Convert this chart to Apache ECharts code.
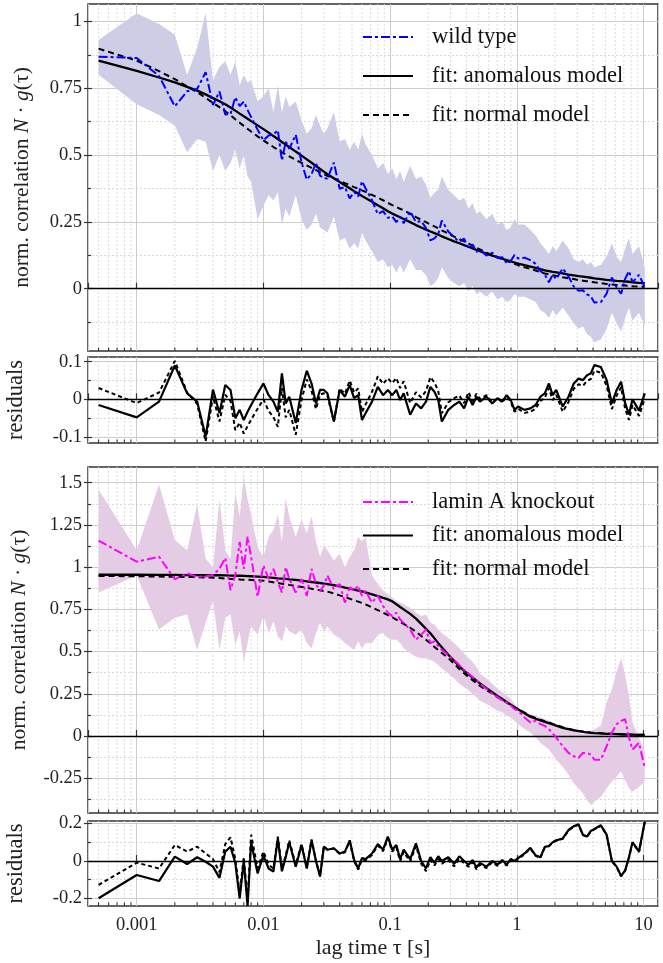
<!DOCTYPE html>
<html><head><meta charset="utf-8">
<script src="https://cdn.jsdelivr.net/npm/echarts@6/dist/echarts.min.js"></script>
<style>html,body{margin:0;padding:0;background:#fff}#c{width:663px;height:963px}</style>
</head><body><div id="c"></div>
<script>
// ---- lag times [s]
const tau = [0.0005,0.001,0.0015,0.002,0.0025,0.003,0.0035,0.004,0.0045,0.005,
0.0055,0.006,0.0065,0.007,0.0075,0.008,0.009,0.010,0.011,0.012,
0.013,0.014,0.015,0.016,0.018,0.020,0.022,0.024,0.026,0.028,
0.030,0.032,0.036,0.040,0.044,0.048,0.052,0.056,0.060,0.064,
0.072,0.080,0.088,0.096,0.104,0.112,0.120,0.128,0.144,0.160,
0.176,0.192,0.208,0.224,0.240,0.256,0.288,0.320,0.352,0.384,
0.416,0.448,0.480,0.512,0.576,0.640,0.704,0.768,0.832,0.896,
0.960,1.024,1.152,1.280,1.408,1.536,1.664,1.792,1.920,2.048,
2.304,2.560,2.816,3.072,3.328,3.584,3.840,4.096,4.608,5.120,
5.632,6.144,6.656,7.168,7.680,8.192,9.216,10.24];

// ---- wild type
const wtData = [0.868,0.863,0.796,0.682,0.739,0.747,0.810,0.687,0.738,0.652,
0.653,0.716,0.683,0.700,0.669,0.642,0.595,0.555,0.573,0.577,
0.593,0.480,0.550,0.523,0.576,0.473,0.408,0.429,0.470,0.423,
0.413,0.412,0.472,0.374,0.380,0.338,0.362,0.345,0.402,0.376,
0.331,0.279,0.290,0.265,0.270,0.249,0.269,0.245,0.290,0.249,
0.253,0.227,0.181,0.188,0.204,0.255,0.214,0.192,0.176,0.187,
0.150,0.166,0.138,0.146,0.124,0.135,0.115,0.118,0.096,0.104,
0.126,0.113,0.116,0.107,0.093,0.066,0.053,0.024,0.052,0.036,
0.076,0.046,0.008,-0.008,-0.006,-0.021,-0.028,-0.052,-0.050,-0.018,
0.042,0.004,-0.019,0.037,0.066,0.024,0.052,0.005];
const wtUpper = [0.93,1.03,0.99,0.95,0.80,0.90,1.03,0.78,0.83,0.85,
0.80,0.85,0.76,0.80,0.77,0.78,0.70,0.72,0.75,0.66,
0.76,0.66,0.72,0.68,0.70,0.63,0.58,0.60,0.65,0.61,
0.58,0.60,0.66,0.55,0.56,0.52,0.55,0.52,0.58,0.54,
0.50,0.45,0.47,0.43,0.45,0.41,0.44,0.40,0.46,0.41,
0.42,0.39,0.34,0.36,0.37,0.42,0.37,0.35,0.33,0.34,
0.30,0.32,0.28,0.29,0.26,0.28,0.24,0.25,0.22,0.23,
0.26,0.24,0.24,0.22,0.20,0.17,0.15,0.13,0.16,0.14,
0.18,0.15,0.11,0.10,0.11,0.09,0.10,0.08,0.09,0.12,
0.17,0.12,0.10,0.15,0.19,0.13,0.16,0.08];
const wtLower = [0.80,0.69,0.65,0.61,0.51,0.56,0.55,0.44,0.50,0.44,
0.47,0.52,0.45,0.50,0.42,0.40,0.26,0.31,0.35,0.33,
0.36,0.24,0.30,0.27,0.35,0.26,0.22,0.24,0.28,0.23,
0.22,0.21,0.27,0.18,0.19,0.15,0.17,0.15,0.21,0.18,
0.14,0.10,0.11,0.08,0.09,0.06,0.09,0.06,0.11,0.07,
0.07,0.05,0.01,0.02,0.04,0.08,0.04,0.02,0.01,0.02,
-0.01,0.01,-0.02,-0.01,-0.03,-0.01,-0.04,-0.03,-0.05,-0.04,
-0.02,-0.03,-0.03,-0.04,-0.05,-0.08,-0.09,-0.11,-0.08,-0.10,
-0.07,-0.10,-0.13,-0.15,-0.14,-0.17,-0.18,-0.20,-0.19,-0.15,
-0.09,-0.13,-0.16,-0.11,-0.07,-0.12,-0.09,-0.14];
const wtFitAnom = [0.853,0.815,0.790,0.772,0.755,0.741,0.727,0.713,0.701,0.690,
0.678,0.666,0.655,0.645,0.636,0.627,0.611,0.597,0.584,0.571,
0.560,0.549,0.539,0.530,0.513,0.498,0.484,0.471,0.459,0.448,
0.438,0.428,0.413,0.399,0.387,0.376,0.365,0.356,0.347,0.339,
0.325,0.312,0.301,0.290,0.281,0.274,0.267,0.261,0.249,0.238,
0.229,0.221,0.214,0.208,0.202,0.196,0.186,0.177,0.170,0.163,
0.157,0.151,0.145,0.140,0.131,0.124,0.118,0.112,0.107,0.102,
0.098,0.094,0.088,0.083,0.078,0.073,0.069,0.066,0.063,0.061,
0.057,0.053,0.050,0.047,0.045,0.043,0.041,0.039,0.036,0.033,
0.031,0.029,0.028,0.027,0.026,0.024,0.022,0.021];
const wtFitNorm = [0.898,0.853,0.814,0.784,0.757,0.735,0.714,0.695,0.679,0.664,
0.649,0.634,0.621,0.609,0.598,0.588,0.570,0.555,0.542,0.530,
0.520,0.510,0.502,0.495,0.482,0.471,0.461,0.452,0.444,0.436,
0.429,0.422,0.412,0.403,0.395,0.388,0.380,0.374,0.368,0.362,
0.351,0.340,0.331,0.321,0.313,0.306,0.299,0.293,0.280,0.268,
0.258,0.249,0.240,0.233,0.226,0.218,0.206,0.195,0.186,0.177,
0.169,0.161,0.153,0.147,0.135,0.126,0.118,0.110,0.104,0.098,
0.093,0.088,0.080,0.074,0.068,0.062,0.057,0.054,0.050,0.048,
0.043,0.039,0.036,0.032,0.030,0.028,0.026,0.024,0.021,0.018,
0.016,0.014,0.013,0.012,0.011,0.009,0.008,0.007];
const wtResAnom = [-0.015,-0.048,-0.006,0.090,0.016,-0.006,-0.099,0.026,-0.037,0.038,
0.025,-0.050,-0.028,-0.055,-0.033,-0.015,0.016,0.042,0.011,-0.006,
-0.033,0.069,-0.011,0.007,-0.063,0.025,0.076,0.042,-0.011,0.025,
0.025,0.016,-0.059,0.025,0.007,0.038,0.003,0.011,-0.055,-0.037,
-0.006,0.033,0.011,0.025,0.011,0.025,-0.002,0.016,-0.041,-0.011,
-0.024,-0.006,0.033,0.020,-0.002,-0.059,-0.028,-0.015,-0.006,-0.024,
0.007,-0.015,0.007,-0.006,0.007,-0.011,0.003,-0.006,0.011,-0.002,
-0.028,-0.019,-0.028,-0.024,-0.015,0.007,0.016,0.042,0.011,0.025,
-0.019,0.007,0.042,0.055,0.051,0.064,0.069,0.091,0.086,0.051,
-0.011,0.025,0.047,-0.010,-0.040,0.000,-0.030,0.016];
const wtResNorm = [0.030,-0.010,0.018,0.102,0.018,-0.012,-0.112,0.008,-0.059,0.012,
-0.004,-0.082,-0.062,-0.091,-0.071,-0.054,-0.025,0.000,-0.031,-0.047,
-0.073,0.030,-0.048,-0.028,-0.094,-0.002,0.053,0.023,-0.026,0.013,
0.016,0.010,-0.060,0.029,0.015,0.050,0.018,0.029,-0.034,-0.014,
0.020,0.061,0.041,0.056,0.043,0.057,0.030,0.048,-0.010,0.019,
0.005,0.022,0.059,0.045,0.022,-0.037,-0.008,0.003,0.010,-0.010,
0.019,-0.005,0.015,0.001,0.011,-0.009,0.003,-0.008,0.008,-0.006,
-0.033,-0.025,-0.036,-0.033,-0.025,-0.004,0.004,0.030,-0.002,0.012,
-0.033,-0.007,0.028,0.040,0.036,0.049,0.054,0.076,0.071,0.036,
-0.026,0.010,0.032,-0.025,-0.055,-0.015,-0.044,0.002];

// ---- lamin A knockout
const koData = [1.157,1.032,1.062,0.928,0.963,0.943,0.945,0.953,0.990,1.054,
0.864,0.953,1.150,0.990,1.180,1.060,0.825,1.010,0.930,0.990,
0.910,0.850,1.000,0.930,0.850,0.930,0.830,0.990,0.900,0.860,
0.890,0.950,0.870,0.900,0.790,0.880,0.860,0.890,0.830,0.860,
0.790,0.830,0.770,0.730,0.710,0.730,0.690,0.670,0.630,0.570,
0.600,0.630,0.550,0.560,0.530,0.510,0.480,0.450,0.420,0.390,
0.370,0.350,0.330,0.310,0.280,0.250,0.230,0.210,0.200,0.180,
0.160,0.150,0.110,0.080,0.090,0.070,0.060,0.040,0.015,-0.010,
-0.060,-0.100,-0.120,-0.130,-0.100,-0.100,-0.110,-0.140,-0.140,-0.060,
0.020,0.070,0.090,0.100,-0.010,-0.080,-0.040,-0.190];
const koUpper = [1.46,1.10,1.49,1.16,1.10,1.37,1.05,1.00,1.40,1.10,
1.05,1.44,1.30,1.54,1.40,1.31,1.12,1.06,1.18,1.22,
1.31,1.15,1.41,1.30,1.18,1.28,1.20,1.30,1.15,1.06,
1.13,1.10,1.04,1.08,1.00,1.06,1.10,1.18,1.15,1.18,
0.95,0.90,0.86,0.84,0.82,0.80,0.79,0.78,0.76,0.73,
0.71,0.72,0.67,0.66,0.63,0.61,0.58,0.55,0.52,0.49,
0.46,0.44,0.41,0.37,0.34,0.31,0.28,0.26,0.24,0.22,
0.19,0.16,0.14,0.13,0.12,0.11,0.10,0.09,0.08,0.07,
0.05,0.04,0.03,0.02,0.01,0.02,0.03,0.04,0.06,0.20,
0.28,0.38,0.46,0.36,0.24,0.08,-0.01,-0.09];
const koLower = [0.85,0.95,0.63,0.70,0.72,0.51,0.67,0.80,0.51,0.70,
0.72,0.54,0.62,0.44,0.55,0.65,0.60,0.71,0.61,0.68,
0.59,0.56,0.65,0.62,0.60,0.63,0.55,0.52,0.61,0.67,
0.62,0.65,0.60,0.58,0.55,0.53,0.51,0.56,0.52,0.55,
0.55,0.60,0.61,0.58,0.57,0.57,0.55,0.52,0.49,0.47,
0.46,0.46,0.45,0.44,0.42,0.40,0.37,0.34,0.31,0.29,
0.27,0.25,0.23,0.21,0.19,0.17,0.15,0.14,0.12,0.11,
0.09,0.07,0.04,0.02,-0.01,-0.04,-0.06,-0.08,-0.11,-0.14,
-0.18,-0.23,-0.28,-0.31,-0.34,-0.38,-0.41,-0.39,-0.36,-0.31,
-0.27,-0.24,-0.21,-0.26,-0.31,-0.33,-0.30,-0.27];
const koFitAnom = [0.955,0.955,0.954,0.954,0.953,0.953,0.953,0.952,0.952,0.951,
0.950,0.949,0.949,0.948,0.947,0.946,0.944,0.942,0.939,0.937,
0.934,0.932,0.930,0.928,0.925,0.920,0.916,0.912,0.909,0.906,
0.903,0.900,0.893,0.886,0.879,0.873,0.867,0.861,0.857,0.851,
0.839,0.828,0.818,0.809,0.797,0.780,0.764,0.750,0.723,0.695,
0.664,0.635,0.608,0.578,0.550,0.525,0.481,0.446,0.413,0.386,
0.365,0.346,0.328,0.311,0.283,0.259,0.237,0.219,0.202,0.186,
0.171,0.158,0.135,0.114,0.102,0.093,0.084,0.076,0.068,0.061,
0.048,0.040,0.034,0.029,0.025,0.022,0.019,0.017,0.015,0.013,
0.012,0.011,0.010,0.009,0.008,0.008,0.007,0.006];
const koFitNorm = [0.948,0.946,0.944,0.943,0.942,0.941,0.939,0.937,0.935,0.932,
0.930,0.929,0.927,0.926,0.925,0.924,0.922,0.920,0.915,0.910,
0.906,0.902,0.899,0.895,0.889,0.883,0.877,0.872,0.867,0.863,
0.859,0.855,0.845,0.833,0.823,0.813,0.804,0.796,0.788,0.780,
0.762,0.745,0.730,0.716,0.703,0.689,0.676,0.664,0.641,0.618,
0.593,0.570,0.548,0.527,0.509,0.492,0.461,0.428,0.397,0.371,
0.349,0.331,0.313,0.296,0.272,0.250,0.230,0.214,0.198,0.184,
0.171,0.159,0.138,0.119,0.107,0.097,0.088,0.080,0.072,0.065,
0.052,0.043,0.036,0.031,0.027,0.024,0.021,0.019,0.016,0.014,
0.013,0.012,0.011,0.010,0.009,0.008,0.008,0.007];
const koResAnom = [-0.199,-0.075,-0.107,0.023,-0.016,0.020,-0.004,-0.030,-0.090,0.050,
0.076,-0.010,-0.200,0.000,-0.240,0.100,-0.066,0.030,-0.040,-0.057,
0.120,-0.055,0.020,0.100,-0.030,0.085,-0.040,0.110,0.000,-0.083,
0.076,0.060,0.068,0.040,0.050,0.110,0.005,-0.040,0.015,0.010,
0.040,0.090,0.060,0.130,0.060,0.085,0.010,0.060,0.010,0.094,
0.000,-0.040,0.020,-0.010,0.025,0.000,0.020,-0.015,0.025,0.000,
-0.020,0.005,-0.035,-0.010,-0.030,0.000,-0.020,0.005,-0.020,0.010,
0.000,0.015,0.040,0.070,0.030,0.020,0.075,0.080,0.100,0.110,
0.120,0.165,0.185,0.195,0.140,0.130,0.160,0.170,0.190,0.140,
0.000,-0.030,-0.080,-0.050,0.020,0.100,0.050,0.210];
const koResNorm = [-0.128,-0.009,-0.040,0.085,0.050,0.076,0.040,0.010,-0.060,0.090,
0.126,0.010,-0.170,0.020,-0.210,0.140,-0.040,0.050,-0.020,-0.040,
0.130,-0.040,0.030,0.110,-0.020,0.090,-0.035,0.115,0.000,-0.080,
0.078,0.060,0.066,0.038,0.046,0.104,0.000,-0.046,0.008,0.003,
0.032,0.082,0.052,0.120,0.050,0.074,-0.001,0.048,-0.002,0.080,
-0.014,-0.054,0.006,-0.024,0.011,-0.014,0.006,-0.029,0.012,-0.012,
-0.031,-0.006,-0.045,-0.019,-0.038,-0.007,-0.026,-0.001,-0.025,0.005,
-0.004,0.011,0.036,0.066,0.027,0.017,0.072,0.078,0.098,0.108,
0.118,0.163,0.183,0.193,0.138,0.128,0.158,0.168,0.188,0.138,
-0.002,-0.032,-0.082,-0.052,0.018,0.098,0.048,0.208];

// ---- axis ticks
const xMinorTicks = [0.0005,0.0006,0.0007,0.0008,0.0009,0.002,0.003,0.004,0.005,0.006,0.007,0.008,0.009,
0.02,0.03,0.04,0.05,0.06,0.07,0.08,0.09,0.2,0.3,0.4,0.5,0.6,0.7,0.8,0.9,2,3,4,5,6,7,8,9];
const yTicksWt = [0,0.25,0.5,0.75,1];
const yMinorWt = [-0.125,0.125,0.375,0.625,0.875];
const yTicksKo = [-0.25,0,0.25,0.5,0.75,1,1.25,1.5];
const yMinorKo = [-0.375,-0.125,0.125,0.375,0.625,0.875,1.125,1.375];
const yTicksResWt = [-0.1,0,0.1];
const yMinorResWt = [-0.05,0.05];
const yTicksResKo = [-0.2,0,0.2];
const yMinorResKo = [-0.1,0.1];

[wtData,wtUpper,wtLower,wtFitAnom,wtFitNorm,wtResAnom,wtResNorm,koData,koUpper,koLower,koFitAnom,koFitNorm,koResAnom,koResNorm].forEach((a,i)=>{
  if (a.length !== tau.length) throw new Error('array '+i+' length '+a.length);
});

const FONT = "'Liberation Serif','DejaVu Serif',serif";
const X_MIN = 0.0004126, X_MAX = 13.02;
const pairs = arr => tau.map((t,i)=>[t,arr[i]]);

const grids = [
  {left:88, top:4,   width:570, height:347},
  {left:88, top:357, width:570, height:86},
  {left:88, top:467, width:570, height:346},
  {left:88, top:821, width:570, height:85}
].map(g=>Object.assign(g,{show:true,borderColor:'#333',borderWidth:1.5,backgroundColor:'transparent',containLabel:false,outerBoundsMode:'none'}));

const xAxes = grids.map((g,i)=>({
  type:'log', logBase:10, gridIndex:i, min:X_MIN, max:X_MAX,
  axisLine:{show:false},
  axisTick:{show:true, inside:true, length:6, lineStyle:{color:'#333',width:1.2}},
  axisLabel:{show:i===3, fontFamily:FONT, fontSize:18.5, color:'#222', margin:10,
    showMinLabel:false, showMaxLabel:false,
    formatter: v => { const l=Math.log10(v); return Math.abs(l-Math.round(l))<1e-6 ? String(+v.toPrecision(3)) : ''; }},
  splitLine:{show:true, lineStyle:{color:'#cccccc',width:1}},
  name: i===3 ? 'lag time τ [s]' : '', nameLocation:'middle', nameGap:31,
  nameTextStyle:{fontFamily:FONT, fontSize:22, color:'#222'}
}));

function yAxesFor(gi, min, max, major, minor, name, gap, nameSize){
  const tickColor = {color:'#333',width:1.2};
  return [
    {type:'value', gridIndex:gi, position:'left', min, max,
     axisLine:{show:false},
     axisTick:{show:true, inside:false, length:4, customValues:major, lineStyle:tickColor},
     axisLabel:{customValues:major, fontFamily:FONT, fontSize:18.5, color:'#222', margin:6},
     splitLine:{show:true, lineStyle:{color:'#cccccc',width:1}},
     name, nameLocation:'middle', nameRotate:90, nameGap:gap,
     nameTextStyle:{fontFamily:FONT, fontSize:nameSize, color:'#222',
       rich:{i:{fontFamily:FONT,fontSize:nameSize,fontStyle:'italic',color:'#222'}}}},
    {type:'value', gridIndex:gi, position:'left', min, max,
     axisLine:{show:false},
     axisTick:{show:true, inside:true, length:4, customValues:major, lineStyle:tickColor},
     axisLabel:{show:false, customValues:major}, splitLine:{show:false}},
    {type:'value', gridIndex:gi, position:'left', min, max,
     axisLine:{show:false},
     axisTick:{show:true, inside:true, length:3, customValues:minor, lineStyle:tickColor},
     axisLabel:{show:false, customValues:minor},
     splitLine:{show:true, lineStyle:{color:'#d8d8d8',width:1,type:[2,2]}}}
  ];
}
const mainName = 'norm. correlation {i|N} · {i|g}(τ)';
const yAxes = [].concat(
  yAxesFor(0, -0.233, 1.065, yTicksWt, yMinorWt, mainName, 55, 21.5),
  yAxesFor(1, -0.116, 0.1125, yTicksResWt, yMinorResWt, 'residuals', 60, 22.5),
  yAxesFor(2, -0.456, 1.593, yTicksKo, yMinorKo, mainName, 58, 21.5),
  yAxesFor(3, -0.24, 0.213, yTicksResKo, yMinorResKo, 'residuals', 60, 22.5)
);

function minorSeries(gi){
  return {type:'custom', xAxisIndex:gi, yAxisIndex:3*gi, silent:true, z:1, clip:false,
    data: xMinorTicks.map(v=>[v,0]), encode:{x:0,y:1},
    renderItem:(params, api)=>{
      const x = api.coord([api.value(0), 0])[0];
      const cs = params.coordSys;
      return {type:'group', children:[
        {type:'line', shape:{x1:x,y1:cs.y,x2:x,y2:cs.y+cs.height}, style:{stroke:'#dcdcdc',lineWidth:1,lineDash:[2,2]}},
        {type:'line', shape:{x1:x,y1:cs.y+cs.height,x2:x,y2:cs.y+cs.height-3.5}, style:{stroke:'#333',lineWidth:1.1}}
      ]};
    }};
}
function bandSeries(gi, lo, hi, color){
  return {type:'custom', xAxisIndex:gi, yAxisIndex:3*gi, silent:true, z:2,
    data: tau.map((t,i)=>[t, lo[i], hi[i]]), encode:{x:0, y:[1,2]},
    renderItem:(params, api)=>{
      if (params.dataIndex !== 0) return null;
      const up = tau.map((t,i)=>api.coord([t, hi[i]]));
      const dn = tau.map((t,i)=>api.coord([t, lo[i]])).reverse();
      return {type:'polygon', shape:{points: up.concat(dn)}, style:{fill:color, stroke:null}};
    }};
}
const zeroLine = {silent:true, symbol:'none', label:{show:false}, lineStyle:{color:'#000',width:1.3,type:'solid'}, data:[{yAxis:0}], animation:false};
const lineBase = {type:'line', showSymbol:false, symbol:'none', z:4, animation:false};
const DASHDOT = [9,3,3,3];
const DASH = [6,4];

function panelSeries(gi, data, lo, hi, fa, fn, dataName, color, band){
  const yi = 3*gi;
  return [
    minorSeries(gi),
    bandSeries(gi, lo, hi, band),
    Object.assign({}, lineBase, {name:'fit: normal model', xAxisIndex:gi, yAxisIndex:yi, data:pairs(fn),
     lineStyle:{color:'#000', width:2, type:DASH}, itemStyle:{color:'#000'}}),
    Object.assign({}, lineBase, {name:'fit: anomalous model', xAxisIndex:gi, yAxisIndex:yi, data:pairs(fa),
     lineStyle:{color:'#000', width:2.3, type:'solid'}, itemStyle:{color:'#000'}, markLine:zeroLine}),
    Object.assign({}, lineBase, {name:dataName, xAxisIndex:gi, yAxisIndex:yi, data:pairs(data), z:5,
     lineStyle:{color:color, width:2, type:DASHDOT}, itemStyle:{color:color}})
  ];
}
function resSeries(gi, ra, rn){
  const yi = 3*gi;
  return [
    minorSeries(gi),
    Object.assign({}, lineBase, {name:'_rn'+gi, xAxisIndex:gi, yAxisIndex:yi, data:pairs(rn),
     lineStyle:{color:'#000', width:2, type:[4,3]}, itemStyle:{color:'#000'}}),
    Object.assign({}, lineBase, {name:'_ra'+gi, xAxisIndex:gi, yAxisIndex:yi, data:pairs(ra),
     lineStyle:{color:'#000', width:2.2, type:'solid'}, itemStyle:{color:'#000'}, markLine:zeroLine})
  ];
}

const series = [].concat(
  panelSeries(0, wtData, wtLower, wtUpper, wtFitAnom, wtFitNorm, 'wild type', '#0000ff', '#cdcde6'),
  resSeries(1, wtResAnom, wtResNorm),
  panelSeries(2, koData, koLower, koUpper, koFitAnom, koFitNorm, 'lamin A knockout', '#ff00ff', '#e5cce5'),
  resSeries(3, koResAnom, koResNorm)
);

const legendBase = {orient:'vertical', left:362, padding:0, itemWidth:50, itemHeight:22,
  itemStyle:{opacity:0},
  textStyle:{fontFamily:FONT, fontSize:22.5, color:'#111', padding:[0,0,0,14]}, selectedMode:false};

const chart = echarts.init(document.getElementById('c'), null, {renderer:'canvas'});
chart.setOption({
  animation:false,
  textStyle:{fontFamily:FONT},
  grid: grids,
  xAxis: xAxes,
  yAxis: yAxes,
  legend: [
    Object.assign({}, legendBase, {top:25.5, itemGap:16, data:['wild type','fit: anomalous model','fit: normal model']}),
    Object.assign({}, legendBase, {top:490.5, itemGap:10.5, data:['lamin A knockout','fit: anomalous model','fit: normal model']})
  ],
  series
});
</script></body></html>
